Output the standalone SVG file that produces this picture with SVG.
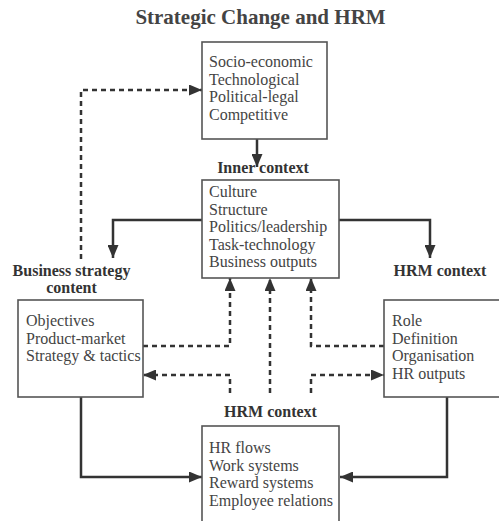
<svg xmlns="http://www.w3.org/2000/svg" width="499" height="521" viewBox="0 0 499 521">
<style>
.box{fill:#fff;stroke:#555;stroke-width:1.6}
.t{font-family:"Liberation Serif","Times New Roman",serif;font-size:16px;fill:#444}
.b{font-family:"Liberation Serif","Times New Roman",serif;font-size:16px;font-weight:bold;fill:#333;text-anchor:middle}
.ttl{font-family:"Liberation Serif","Times New Roman",serif;font-size:21px;font-weight:bold;fill:#444;text-anchor:middle}
.s{fill:none;stroke:#333;stroke-width:2.5}
.d{fill:none;stroke:#333;stroke-width:2.5;stroke-dasharray:5 4}
</style>
<defs>
<marker id="ah" viewBox="0 0 13 11" refX="13" refY="5.5" markerWidth="13" markerHeight="11" markerUnits="userSpaceOnUse" orient="auto">
<path d="M0,0 L13,5.5 L0,11 Z" fill="#333"/>
</marker>
</defs>
<rect width="499" height="521" fill="#fff"/>
<text class="ttl" x="260.5" y="24">Strategic Change and HRM</text>

<g id="connectors">
<path class="s" d="M257,139 V167" marker-end="url(#ah)"/>
<path class="s" d="M202,220 H113 V258" marker-end="url(#ah)"/>
<path class="s" d="M339,220 H430 V258" marker-end="url(#ah)"/>
<path class="s" d="M81,397 V477 H202" marker-end="url(#ah)"/>
<path class="s" d="M447,397 V477 H340" marker-end="url(#ah)"/>
<path class="d" d="M81,259 V90 H202" marker-end="url(#ah)"/>
<path class="d" d="M143,346 H230 V278" marker-end="url(#ah)"/>
<path class="d" d="M270,393 V278" marker-end="url(#ah)"/>
<path class="d" d="M384,346 H311 V278" marker-end="url(#ah)"/>
<path class="d" d="M230,393 V375 H143" marker-end="url(#ah)"/>
<path class="d" d="M311,393 V375 H384" marker-end="url(#ah)"/>
</g>

<g id="external">
<rect class="box" x="202" y="42" width="125" height="97"/>
<text class="t" x="209" y="67">Socio-economic</text>
<text class="t" x="209" y="84.5">Technological</text>
<text class="t" x="209" y="102">Political-legal</text>
<text class="t" x="209" y="119.5">Competitive</text>
</g>

<g id="inner">
<text class="b" x="263" y="173">Inner context</text>
<rect class="box" x="202" y="180" width="137" height="98"/>
<text class="t" x="209" y="197">Culture</text>
<text class="t" x="209" y="214.5">Structure</text>
<text class="t" x="209" y="232">Politics/leadership</text>
<text class="t" x="209" y="249.5">Task-technology</text>
<text class="t" x="209" y="267">Business outputs</text>
</g>

<g id="business">
<text class="b" x="71.5" y="276">Business strategy</text>
<text class="b" x="71.5" y="293">content</text>
<rect class="box" x="18" y="300" width="125" height="97"/>
<text class="t" x="26" y="326">Objectives</text>
<text class="t" x="26" y="343.5">Product-market</text>
<text class="t" x="26" y="361">Strategy &amp; tactics</text>
</g>

<g id="hrmright">
<text class="b" x="440" y="276">HRM context</text>
<rect class="box" x="384" y="300" width="125" height="97"/>
<text class="t" x="392" y="326">Role</text>
<text class="t" x="392" y="343.5">Definition</text>
<text class="t" x="392" y="361">Organisation</text>
<text class="t" x="392" y="378.5">HR outputs</text>
</g>

<g id="hrmbottom">
<text class="b" x="270.5" y="417">HRM context</text>
<rect class="box" x="202" y="426" width="137" height="110"/>
<text class="t" x="209" y="453">HR flows</text>
<text class="t" x="209" y="470.5">Work systems</text>
<text class="t" x="209" y="488">Reward systems</text>
<text class="t" x="209" y="505.5">Employee relations</text>
</g>
</svg>
